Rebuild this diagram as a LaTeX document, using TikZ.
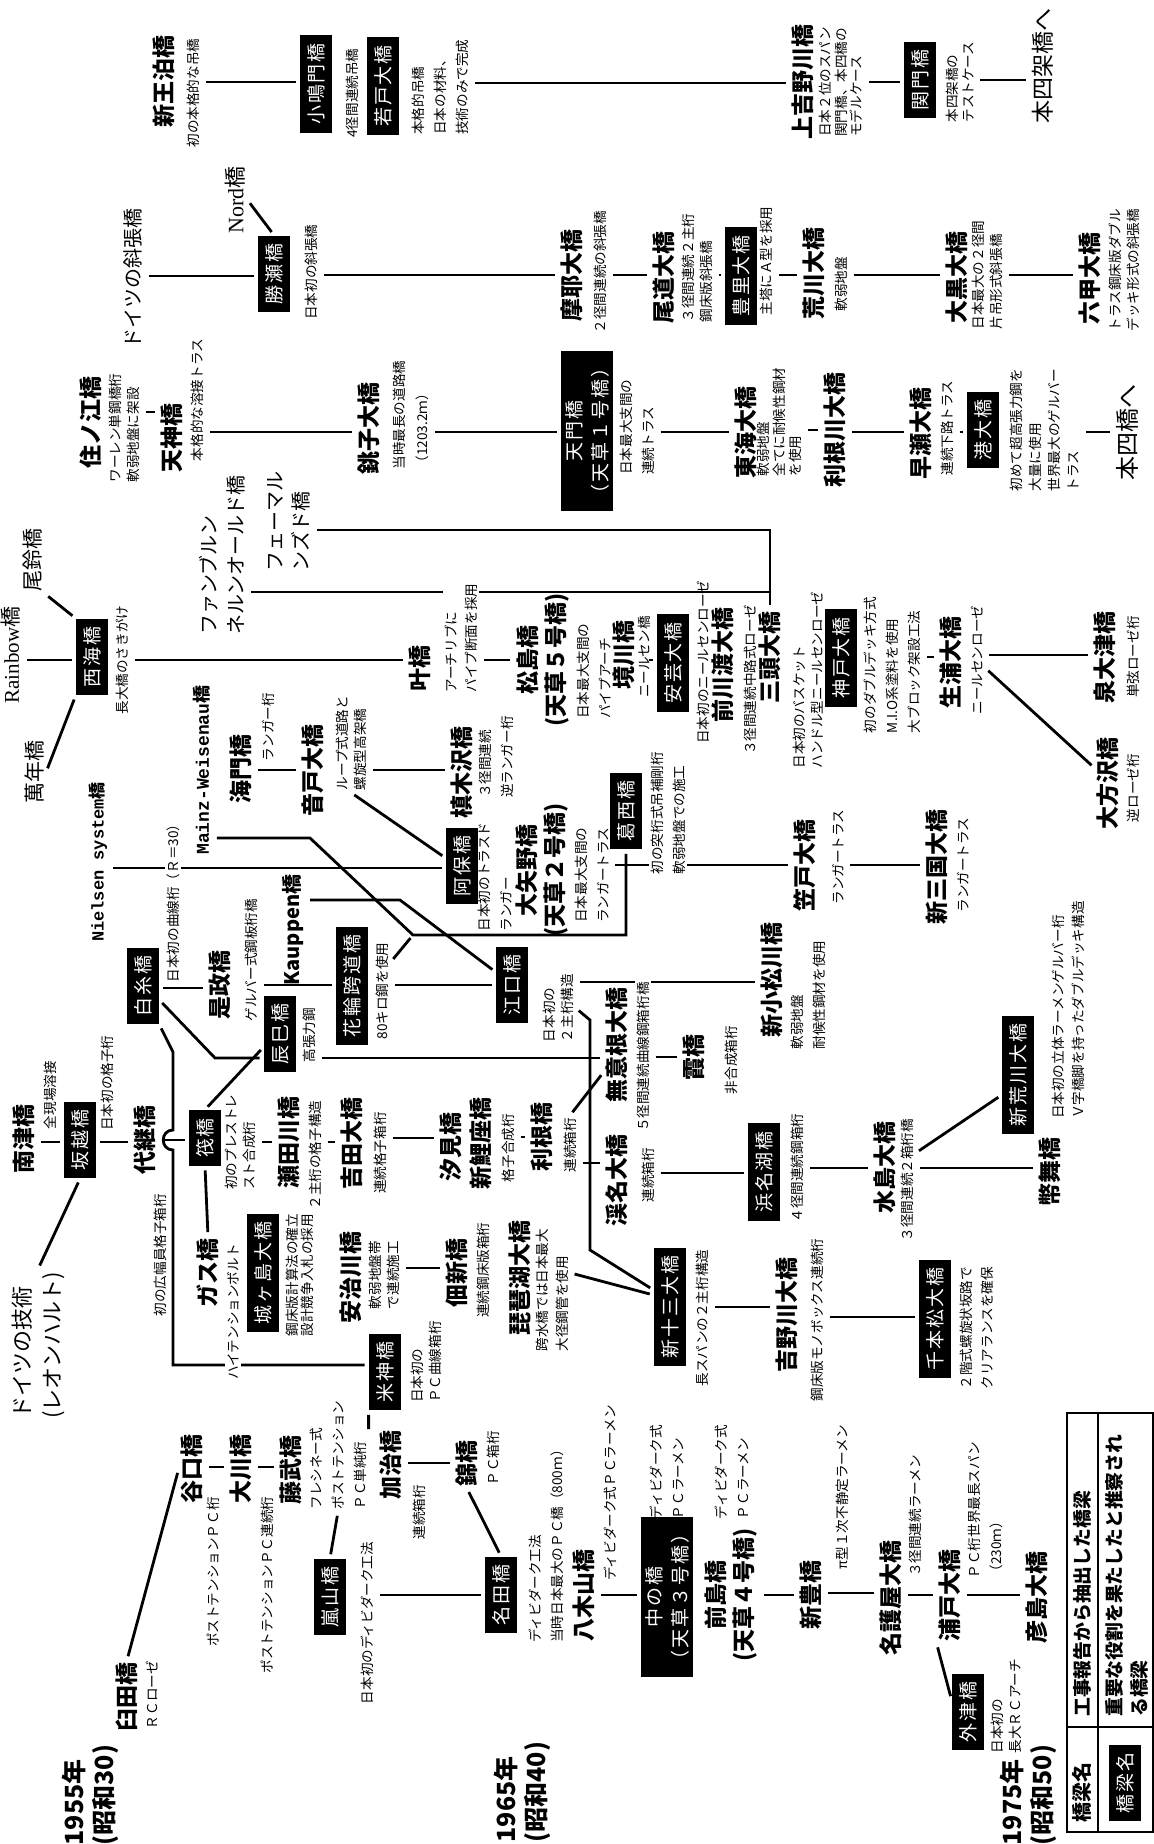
\documentclass[tikz,border=0pt]{standalone}
\usepackage{fontspec}
\setmainfont{Noto Sans CJK JP}
\newfontfamily\boxfont{Noto Sans CJK JP}[LetterSpace=10]
\newfontfamily\lserif{Liberation Serif}
\newfontfamily\lmono{Liberation Mono}
\usetikzlibrary{positioning,backgrounds}

\begin{document}
\begin{tikzpicture}[x=0.5pt, y=-0.5pt]
    % Define block styles
    \tikzstyle{bridge} = [rotate=90, inner sep=1pt, align=center, font=\bfseries\fontsize{11.5}{14}\selectfont]
    \tikzstyle{keybridge} = [rotate=90, fill=black, text=white, inner xsep=4pt, inner ysep=2pt, minimum height=16pt, align=center, font=\boxfont\fontsize{9.5}{13}\selectfont]
    \tikzstyle{remark} = [rotate=90, inner sep=1pt, align=left, font=\fontsize{6.8}{9}\selectfont]
    \tikzstyle{foreign} = [rotate=90, inner sep=1pt, align=left, font=\fontsize{10.5}{13.5}\selectfont]
    \tikzstyle{yearlabel} = [rotate=90, inner sep=1pt, align=left, font=\bfseries\fontsize{12.5}{15}\selectfont]
    \tikzstyle{whitebg} = [fill=white]
    \tikzstyle{link} = [line width=1.4pt, shorten <=2pt, shorten >=2pt]

    \useasboundingbox (0,0) rectangle (1153,1844);

    % Suspension bridges
    \node[bridge] (shinouto) at (164,81) {新王泊橋};
    \node[remark] (shinoutonote) at (193,93) {初の本格的な吊橋};
    \node[keybridge] (konaruto) at (316,84) {小鳴門橋};
    \node[remark] (konarutonote) at (352,93) {4径間連続吊橋};
    \node[keybridge] (wakato) at (383,86) {若戸大橋};
    \node[remark, font=\fontsize{6.8}{11}\selectfont] (wakatonote) at (440,87) {本格的吊橋\\日本の材料、\\技術のみで完成};
    \node[bridge] (kamiyoshino) at (803,82) {上吉野川橋};
    \node[remark, font=\fontsize{6.8}{7.8}\selectfont] (kamiyoshinonote) at (841,82) {日本２位のスパン\\関門橋、本四橋の\\モデルケース};
    \node[keybridge] (kanmon) at (920,80) {関門橋};
    \node[remark, font=\fontsize{6.8}{7.8}\selectfont] (kanmonnote) at (960,82) {本四架橋の\\テストケース};
    \node[foreign, font=\fontsize{11.5}{13}\selectfont] (honshi1) at (1043,66) {本四架橋へ};

    % Cable-stayed bridges
    \node[foreign, font=\fontsize{10}{12}\selectfont] (germancs) at (133,278) {ドイツの斜張橋};
    \node[foreign, font=\fontsize{11}{13}\selectfont] (nord) at (235,200) {{\lserif Nord}橋};
    \node[keybridge] (katsuse) at (274,274) {勝瀬橋};
    \node[remark] (katsusenote) at (311,272) {日本初の斜張橋};
    \node[bridge] (maya) at (572,275) {摩耶大橋};
    \node[remark] (mayanote) at (600,272) {２径間連続の斜張橋};
    \node[bridge] (onomichi) at (664,277) {尾道大橋};
    \node[remark] (onomichinote) at (697,268) {３径間連続２主桁\\鋼床版斜張橋};
    \node[keybridge] (toyosato) at (741,276) {豊里大橋};
    \node[remark] (toyosatonote) at (766,261) {主塔にＡ型を採用};
    \node[bridge] (arakawa) at (814,273) {荒川大橋};
    \node[remark] (arakawanote) at (841,284) {軟弱地盤};
    \node[bridge] (daikoku) at (957,277) {大黒大橋};
    \node[remark] (daikokunote) at (987,275) {日本最大の２径間\\片吊形式斜張橋};
    \node[bridge] (rokko) at (1090,278) {六甲大橋};
    \node[remark] (rokkonote) at (1124,270) {トラス鋼床版ダブル\\デッキ形式の斜張橋};

    % Truss bridges
    \node[bridge] (suminoe) at (91,422) {住ノ江橋};
    \node[remark] (suminoenote) at (124,428) {ワーレン単鋼橋桁\\軟弱地盤に架設};
    \node[bridge] (tenjin) at (172,438) {天神橋};
    \node[remark] (tenjinnote) at (197,400) {本格的な溶接トラス};
    \node[bridge] (choshi) at (369,428) {銚子大橋};
    \node[remark, font=\fontsize{6.8}{11.5}\selectfont] (choshinote) at (411,415) {当時最長の道路橋\\（1203.2ｍ）};
    \node[keybridge] (tenmon) at (587,431) {天門橋\\（天草１号橋）};
    \node[remark, font=\fontsize{6.8}{11}\selectfont] (tenmonnote) at (637,427) {日本最大支間の\\連続トラス};
    \node[bridge] (tokai) at (746,432) {東海大橋};
    \node[remark, font=\fontsize{6.8}{8}\selectfont] (tokainote) at (779,422) {軟弱地盤\\全てに耐候性鋼材\\を使用};
    \node[bridge] (tonegawa) at (835,430) {利根川大橋};
    \node[bridge] (hayase) at (921,433) {早瀬大橋};
    \node[remark] (hayasenote) at (947,428) {連続下路トラス};
    \node[keybridge] (minato) at (983,430) {港大橋};
    \node[remark, font=\fontsize{6.8}{9.5}\selectfont] (minatonote) at (1045,430) {初めて超高張力鋼を\\大量に使用\\世界最大のゲルバー\\トラス};
    \node[foreign, font=\fontsize{12}{13}\selectfont] (honshi2) at (1127,432) {本四橋へ};

    % Arch bridges
    \node[foreign] (osuzu) at (33,560) {尾鈴橋};
    \node[foreign] (rainbow) at (11,655) {{\lserif Rainbow}橋};
    \node[foreign] (mannen) at (34,772) {萬年橋};
    \node[keybridge] (saikai) at (92,657) {西海橋};
    \node[remark] (saikainote) at (122,660) {長大橋のさきがけ};
    \node[foreign, font=\fontsize{10}{13.5}\selectfont] (fahn) at (222,555) {ファンブルン\\ネルンオールド橋};
    \node[foreign, font=\fontsize{10}{13}\selectfont] (fehmarn) at (289,521) {フェーマル\\ンズド橋};
    \node[bridge] (kanou) at (420,668) {叶橋};
    \node[remark, whitebg, font=\fontsize{6.8}{10}\selectfont] (kanounote) at (461,638) {アーチリブに\\パイプ断面を採用};
    \node[bridge] (matsushima) at (543,660) {松島橋\\(天草５号橋)};
    \node[remark, font=\fontsize{6.8}{11}\selectfont] (matsushimanote) at (594,671) {日本最大支間の\\パイプアーチ};
    \node[bridge] (sakaigawa) at (624,655) {境川橋};
    \node[remark] (sakaigawanote) at (644,657) {ニールセン橋};
    \node[keybridge] (aki) at (673,663) {安芸大橋};
    \node[remark] (akinote) at (703,662) {日本初のニールセンローゼ};
    \node[bridge] (maekawa) at (723,665) {前川渡大橋};
    \node[remark] (maekawanote) at (750,680) {３径間連続中路式ローゼ};
    \node[bridge] (mikashira) at (770,657) {三頭大橋};
    \node[remark] (mikashiranote) at (808,680) {日本初のバスケット\\ハンドル型ニールセンローゼ};
    \node[keybridge] (kobe) at (841,658) {神戸大橋};
    \node[remark, font=\fontsize{6.8}{11}\selectfont] (kobenote) at (892,665) {初のダブルデッキ方式\\M.I.O系塗料を使用\\大ブロック架設工法};
    \node[bridge] (ikura) at (951,662) {生浦大橋};
    \node[remark] (ikuranote) at (977,660) {ニールセンローゼ};
    \node[bridge] (izumiotsu) at (1105,657) {泉大津橋};
    \node[remark] (izumiotsunote) at (1133,657) {単弦ローゼ桁};
    \node[bridge] (ohosawa) at (1108,783) {大方沢橋};
    \node[remark] (ohosawanote) at (1133,788) {逆ローゼ桁};

    % Langer and girder bridges
    \node[bridge, font=\bfseries\fontsize{9}{11}\selectfont] (mainz) at (202,770) {{\lmono Mainz-Weisenau}橋};
    \node[bridge] (kaimon) at (241,769) {海門橋};
    \node[remark] (kaimonnote) at (268,727) {ランガー桁};
    \node[bridge] (ondo) at (313,770) {音戸大橋};
    \node[remark] (ondonote) at (351,743) {ループ式道路と\\螺旋型高架橋};
    \node[bridge] (makiki) at (462,772) {槙木沢橋};
    \node[remark, font=\fontsize{6.8}{11}\selectfont] (makikinote) at (496,757) {３径間連続\\逆ランガー桁};
    \node[bridge, font=\bfseries\fontsize{8.5}{11}\selectfont] (nielsen) at (98,862) {{\lmono Nielsen system}橋};
    \node[keybridge] (shiraito) at (143,986) {白糸橋};
    \node[remark, whitebg] (shiraitonote) at (173,900) {日本初の曲線桁（Ｒ＝30）};
    \node[bridge, font=\bfseries\fontsize{10}{12}\selectfont] (kauppen) at (293,930) {Kauppen橋};
    \node[keybridge] (abo) at (462,866) {阿保橋};
    \node[remark, font=\fontsize{6.8}{11}\selectfont] (abonote) at (495,877) {日本初のトラスド\\ランガー};
    \node[bridge] (oyano) at (542,870) {大矢野橋\\(天草２号橋)};
    \node[remark, font=\fontsize{6.8}{11}\selectfont] (oyanonote) at (592,875) {日本最大支間の\\ランガートラス};
    \node[keybridge] (kasai) at (626,811) {葛西橋};
    \node[remark, whitebg, font=\fontsize{6.8}{11}\selectfont] (kasainote) at (668,813) {初の突桁式吊補剛桁\\軟弱地盤での施工};
    \node[bridge] (kasado) at (805,865) {笠戸大橋};
    \node[remark] (kasadonote) at (838,857) {ランガートラス};
    \node[bridge] (shinmikuni) at (937,867) {新三国大橋};
    \node[remark] (shinmikuninote) at (963,865) {ランガートラス};
    \node[bridge] (koremasa) at (220,985) {是政橋};
    \node[remark] (koremasanote) at (251,960) {ゲルバー式鋼板桁橋};
    \node[keybridge] (tatsumi) at (280,1034) {辰巳橋};
    \node[remark] (tatsuminote) at (309,1035) {高張力鋼};
    \node[keybridge] (hanawa) at (352,986) {花輪跨道橋};
    \node[remark] (hanawanote) at (382,991) {80キロ鋼を使用};
    \node[keybridge] (eguchi) at (512,985) {江口橋};
    \node[remark] (eguchinote) at (558,1008) {日本初の\\２主桁構造};
    \node[bridge] (shinkomatsu) at (772,980) {新小松川橋};
    \node[remark, font=\fontsize{6.8}{11}\selectfont] (shinkomatsunote) at (808,995) {軟弱地盤\\耐候性鋼材を使用};
    \node[bridge] (muine) at (617,1045) {無意根大橋};
    \node[remark, whitebg] (muinenote) at (643,1057) {５径間連続曲線鋼箱桁橋};
    \node[bridge] (kasumi) at (694,1057) {霞橋};
    \node[remark] (kasuminote) at (731,1060) {非合成箱桁};

    % Grid and box girders
    \node[foreign, font=\fontsize{11}{15}\selectfont] (leonhardt) at (38,1345) {ドイツの技術\\(レオンハルト)};
    \node[bridge] (nanzu) at (24,1139) {南津橋};
    \node[remark] (nanzunote) at (50,1095) {全現場溶接};
    \node[keybridge] (sakoshi) at (80,1140) {坂越橋};
    \node[remark] (sakoshinote) at (107,1083) {日本初の格子桁};
    \node[bridge] (yotsugi) at (145,1140) {代継橋};
    \node[remark] (yotsuginote) at (160,1255) {初の広幅員格子箱桁};
    \node[keybridge] (ikada) at (205,1138) {筏橋};
    \node[remark] (ikadanote) at (240,1142) {初のプレストレ\\スト合成桁};
    \node[bridge] (gasu) at (208,1273) {ガス橋};
    \node[remark, whitebg] (gasunote) at (233,1312) {ハイテンションボルト};
    \node[keybridge] (jogashima) at (263,1273) {城ヶ島大橋};
    \node[remark, font=\fontsize{6.8}{7.8}\selectfont] (jogashimanote) at (300,1275) {鋼床版計算法の確立\\設計競争入札の採用};
    \node[bridge] (setagawa) at (289,1142) {瀬田川橋};
    \node[remark] (setagawanote) at (315,1155) {２主桁の格子構造};
    \node[bridge] (yoshida) at (352,1143) {吉田大橋};
    \node[remark] (yoshidanote) at (380,1153) {連続格子箱桁};
    \node[bridge] (ajikawa) at (351,1277) {安治川橋};
    \node[remark] (ajikawanote) at (384,1275) {軟弱地盤帯\\で連続施工};
    \node[bridge] (shiomi) at (451,1147) {汐見橋};
    \node[bridge] (shinkoi) at (481,1143) {新鯉座橋};
    \node[remark] (shinkoinote) at (508,1148) {格子合成桁};
    \node[bridge] (tone) at (542,1137) {利根橋};
    \node[remark] (tonenote) at (570,1145) {連続箱桁};
    \node[bridge] (keimei) at (617,1180) {渓名大橋};
    \node[remark] (keimeinote) at (648,1175) {連続箱桁};
    \node[keybridge] (hamanako) at (764,1172) {浜名湖橋};
    \node[remark] (hamanakonote) at (797,1168) {４径間連続鋼箱桁};
    \node[bridge] (mizushima) at (885,1167) {水島大橋};
    \node[remark] (mizushimanote) at (907,1180) {３径間連続２箱桁橋};
    \node[keybridge] (shinarakawa) at (1018,1075) {新荒川大橋};
    \node[remark, font=\fontsize{6.8}{10}\selectfont] (shinarakawanote) at (1068,1010) {日本初の立体ラーメンゲルバー桁\\Ｖ字橋脚を持ったダブルデッキ構造};
    \node[bridge] (nusamai) at (1050,1172) {幣舞橋};
    \node[bridge] (tsukuda) at (457,1273) {佃新橋};
    \node[remark] (tsukudanote) at (483,1270) {連続鋼床版箱桁};
    \node[bridge] (biwako) at (520,1278) {琵琶湖大橋};
    \node[remark, font=\fontsize{6.8}{10}\selectfont] (biwakonote) at (552,1290) {跨水橋では日本最大\\大径鋼管を使用};
    \node[keybridge] (shinjuso) at (670,1307) {新十三大橋};
    \node[remark] (shinjusonote) at (702,1318) {長スパンの２主桁構造};
    \node[bridge] (yoshinogawa) at (787,1315) {吉野川大橋};
    \node[remark] (yoshinogawanote) at (817,1320) {鋼床版モノボックス連続桁};
    \node[keybridge] (senbonmatsu) at (935,1319) {千本松大橋};
    \node[remark, font=\fontsize{6.8}{10.5}\selectfont] (senbonmatsunote) at (977,1328) {２階式螺旋状坂路で\\クリアランスを確保};
    \node[keybridge] (yonekami) at (385,1372) {米神橋};
    \node[remark] (yonekaminote) at (426,1362) {日本初の\\ＰＣ曲線箱桁};

    % Concrete bridges
    \node[bridge] (taniguchi) at (192,1469) {谷口橋};
    \node[remark] (taniguchinote) at (213,1572) {ポストテンションＰＣ桁};
    \node[bridge] (okawa) at (241,1469) {大川橋};
    \node[remark] (okawanote) at (267,1585) {ポストテンションＰＣ連続桁};
    \node[bridge] (fujitake) at (291,1470) {藤武橋};
    \node[remark, font=\fontsize{6.8}{11}\selectfont] (fujitakenote) at (338,1455) {フレシネー式\\ポストテンション\\ＰＣ単純桁};
    \node[bridge] (usuda) at (127,1697) {臼田橋};
    \node[remark] (usudanote) at (152,1695) {ＲＣローゼ};
    \node[keybridge] (arashiyama) at (330,1597) {嵐山橋};
    \node[remark] (arashiyamanote) at (367,1623) {日本初のディビダーク工法};
    \node[bridge] (kaji) at (391,1465) {加治橋};
    \node[remark] (kajinote) at (419,1512) {連続箱桁};
    \node[bridge] (nishiki) at (467,1463) {錦橋};
    \node[remark] (nishikinote) at (493,1458) {ＰＣ箱桁};
    \node[keybridge] (nada) at (501,1595) {名田橋};
    \node[remark, font=\fontsize{6.8}{11}\selectfont] (nadanote) at (546,1543) {ディビダーク工法\\当時日本最大のＰＣ橋（800ｍ）};
    \node[bridge] (yagiyama) at (584,1595) {八木山橋};
    \node[remark] (yagiyamanote) at (610,1493) {ディビダーク式ＰＣラーメン};
    \node[keybridge] (nakanohashi) at (667,1597) {中の橋\\（天草３号橋）};
    \node[remark, font=\fontsize{6.8}{11}\selectfont] (nakanohashinote) at (667,1472) {ディビダーク式\\ＰＣラーメン};
    \node[bridge] (maejima) at (731,1595) {前島橋\\(天草４号橋)};
    \node[remark, font=\fontsize{6.8}{11}\selectfont] (maejimanote) at (732,1472) {ディビダーク式\\ＰＣラーメン};
    \node[bridge] (shintoyo) at (811,1595) {新豊橋};
    \node[remark] (shintoyonote) at (842,1497) {π型１次不静定ラーメン};
    \node[bridge] (nagoya) at (891,1598) {名護屋大橋};
    \node[remark] (nagoyanote) at (915,1516) {３径間連続ラーメン};
    \node[bridge] (urado) at (950,1595) {浦戸大橋};
    \node[remark, font=\fontsize{6.8}{11}\selectfont] (uradonote) at (985,1510) {ＰＣ桁世界最長スパン\\（230ｍ）};
    \node[bridge] (hikoshima) at (1037,1597) {彦島大橋};
    \node[keybridge] (hokazu) at (968,1712) {外津橋};
    \node[remark] (hokazunote) at (1006,1706) {日本初の\\長大ＲＣアーチ};

    % Years
    \node[yearlabel] (year55) at (90,1795) {1955年\\(昭和30)};
    \node[yearlabel] (year65) at (522,1792) {1965年\\(昭和40)};
    \node[yearlabel] (year75) at (1028,1795) {1975年\\(昭和50)};

    % Legend
    \draw[line width=0.9pt] (1067,1413) rectangle (1153,1832);
    \draw[line width=0.9pt] (1098,1413) -- (1098,1832) (1067,1727) -- (1153,1727);
    \node[bridge, font=\bfseries\fontsize{10}{12}\selectfont] (legendname) at (1082,1792) {橋梁名};
    \node[bridge, anchor=west, align=left, font=\bfseries\fontsize{9.4}{12.5}\selectfont] (legendplain) at (1082,1719) {工事報告から抽出した橋梁};
    \node[keybridge] (legendbox) at (1125,1783) {橋梁名};
    \node[bridge, anchor=west, align=left, font=\bfseries\fontsize{9.4}{12.5}\selectfont] (legendkey) at (1127,1719) {重要な役割を果たしたと推察され\\る橋梁};

    % Arrows between nodes
    \begin{scope}[on background layer]
    \draw[link] (shinoutonote.south |- 0,82) -- (konaruto.north |- 0,82);
    \draw[link] (wakatonote.south |- 0,83) -- (kamiyoshino.north |- 0,83);
    \draw[link] (kamiyoshinonote.south |- 0,82) -- (kanmon.north |- 0,82);
    \draw[link] (kanmonnote.south |- 0,80) -- (honshi1.north |- 0,80);

    \draw[link] (germancs.south |- 0,276) -- (katsuse.north |- 0,276);
    \draw[link] (nord.south) -- (katsuse.east);
    \draw[link] (katsusenote.south |- 0,275) -- (maya.north |- 0,275);
    \draw[link] (mayanote.south |- 0,275) -- (onomichi.north |- 0,275);
    \draw[link] (onomichinote.south |- 0,275) -- (toyosato.north |- 0,275);
    \draw[link] (toyosatonote.south |- 0,275) -- (arakawa.north |- 0,275);
    \draw[link] (arakawanote.south |- 0,275) -- (daikoku.north |- 0,275);
    \draw[link] (daikokunote.south |- 0,275) -- (rokko.north |- 0,275);

    \draw[link] (suminoenote.south |- 0,412) -- (tenjin.north |- 0,412);
    \draw[link] (tenjinnote.south |- 0,432) -- (choshi.north |- 0,432);
    \draw[link] (choshinote.south |- 0,432) -- (tenmon.north |- 0,432);
    \draw[link] (tenmonnote.south |- 0,432) -- (tokai.north |- 0,432);
    \draw[link] (tokainote.south |- 0,430) -- (tonegawa.north |- 0,430);
    \draw[link] (tonegawa.south |- 0,432) -- (hayase.north |- 0,432);
    \draw[link] (hayasenote.south |- 0,432) -- (minato.north |- 0,432);
    \draw[link] (minatonote.south |- 0,432) -- (honshi2.north |- 0,432);

    \draw[link] (osuzu.south west) -- (saikai.north east);
    \draw[link] (rainbow.south |- 0,660) -- (saikai.north |- 0,660);
    \draw[link] (mannen.south) -- (saikai.north west);
    \draw[link] (saikainote.south |- 0,660) -- (kanou.north |- 0,660);
    \draw[link] (kanounote.south |- 0,660) -- (matsushima.north |- 0,660);
    \draw[link] (sakaigawanote.south |- 0,660) -- (aki.north |- 0,660);
    \draw[link] (kobenote.south |- 0,657) -- (ikura.north |- 0,657);
    \draw[link] (ikuranote.south |- 0,655) -- (izumiotsu.north |- 0,655);
    \draw[link] (ikuranote.south |- 0,668) -- (ohosawa.north |- 0,768);
    \draw[link] (fahn.south |- 0,592) -| (mikashira.east);
    \draw[link] (fehmarn.south |- 0,530) -| (mikashira.east);

    \draw[link] (kaimon.south |- 0,770) -- (ondo.north |- 0,770);
    \draw[link] (ondonote.south |- 0,770) -- (makiki.north |- 0,770);
    \draw[link] (ondonote.west) -- (abo.north |- 0,858);
    \draw[link] (nielsen.south |- 0,868) -- (abo.north |- 0,868);
    \draw[link] (mainz.south |- 0,838) -- (310,838) -- (413,935) -| (kasai.west);
    \draw[link] (kauppen.south |- 0,900) -- (400,900) -- (eguchi.north |- 0,972);
    \draw[link] (hanawanote.south |- 0,962) -- (413,935);
    \draw[link] (hanawanote.south |- 0,985) -- (eguchi.north |- 0,985);
    \draw[link] (abonote.south |- 0,868) -- (oyano.north |- 0,868);
    \draw[link] (oyanonote.south |- 0,865) -- (kasado.north |- 0,865);
    \draw[link] (kasadonote.south |- 0,865) -- (shinmikuni.north |- 0,865);
    \draw[link] (shiraito.south |- 0,988) -- (koremasa.north |- 0,988);
    \draw[link] (koremasanote.south |- 0,985) -- (hanawa.north |- 0,985);
    \draw[link] (shiraito.south |- 0,1000) -- (215,1058) -- (tatsumi.north |- 0,1058);
    \draw[link] (ikada.east) -- (tatsumi.north |- 0,1047);
    \draw[link] (tatsuminote.south |- 0,1058) -- (muine.north |- 0,1058);
    \draw[link] (eguchinote.south |- 0,982) -- (shinkomatsu.north |- 0,982);
    \draw[link] (eguchinote.south |- 0,1008) -- (590,1020) -- (590,1250) -- (shinjuso.north |- 0,1290);
    \draw[link] (muinenote.south |- 0,1057) -- (kasumi.north |- 0,1057);
    \draw[link] (tonenote.east) -- (muine.north |- 0,1072);
    \draw[link] (tonenote.south |- 0,1163) -- (keimei.north |- 0,1163);
    \draw[link] (shinkoinote.south |- 0,1137) -- (tone.north |- 0,1137);
    \draw[link] (keimeinote.south |- 0,1173) -- (hamanako.north |- 0,1173);
    \draw[link] (hamanakonote.south |- 0,1168) -- (mizushima.north |- 0,1168);
    \draw[link] (mizushimanote.south |- 0,1168) -- (nusamai.north |- 0,1168);
    \draw[link] (mizushimanote.south |- 0,1153) -- (shinarakawa.north |- 0,1095);

    \draw[link] (nanzu.south |- 0,1142) -- (sakoshi.north |- 0,1142);
    \draw[link] (sakoshi.south |- 0,1142) -- (yotsugi.north |- 0,1142);
    \draw[link] (leonhardt.east) -- (sakoshi.west);
    \draw[link] (yotsugi.south |- 0,1140) -- (ikada.north |- 0,1140);
    \draw[link] (ikada.west) -- (gasu.east);
    \draw[link] (shiraito.south west) -- (173,1052) -- (173,1130) .. controls (160,1130) and (160,1150) .. (173,1150) -- (173,1365) -- (yonekami.north |- 0,1365);
    \draw[link] (ikadanote.south |- 0,1142) -- (setagawa.north |- 0,1142);
    \draw[link] (setagawanote.south |- 0,1142) -- (yoshida.north |- 0,1142);
    \draw[link] (yoshidanote.south |- 0,1138) -- (shiomi.north |- 0,1138);
    \draw[link] (ajikawanote.south |- 0,1268) -- (tsukuda.north |- 0,1268);
    \draw[link] (biwakonote.south |- 0,1273) -- (shinjuso.north |- 0,1295);
    \draw[link] (shinjusonote.south |- 0,1307) -- (yoshinogawa.north |- 0,1307);
    \draw[link] (yoshinogawanote.south |- 0,1317) -- (senbonmatsu.north |- 0,1317);

    \draw[link] (usuda.east) -- (taniguchi.north);
    \draw[link] (taniguchi.south |- 0,1467) -- (okawa.north |- 0,1467);
    \draw[link] (okawa.south |- 0,1467) -- (fujitake.north |- 0,1467);
    \draw[link] (fujitakenote.south |- 0,1433) -- (yonekami.north west);
    \draw[link] (arashiyama.east) -- (fujitakenote.west);
    \draw[link] (arashiyamanote.south |- 0,1595) -- (nada.north |- 0,1595);
    \draw[link] (kaji.south |- 0,1463) -- (nishiki.north |- 0,1463);
    \draw[link] (nishiki.west) -- (nada.east);
    \draw[link] (yagiyama.south |- 0,1595) -- (nakanohashi.north |- 0,1595);
    \draw[link] (maejima.south |- 0,1595) -- (shintoyo.north |- 0,1595);
    \draw[link] (shintoyo.south |- 0,1593) -- (nagoya.north |- 0,1593);
    \draw[link] (nagoya.south |- 0,1595) -- (urado.north |- 0,1595);
    \draw[link] (urado.south |- 0,1595) -- (hikoshima.north |- 0,1595);
    \draw[link] (urado.north west) -- (hokazu.north |- 0,1700);
    \end{scope}
\end{tikzpicture}
\end{document}
